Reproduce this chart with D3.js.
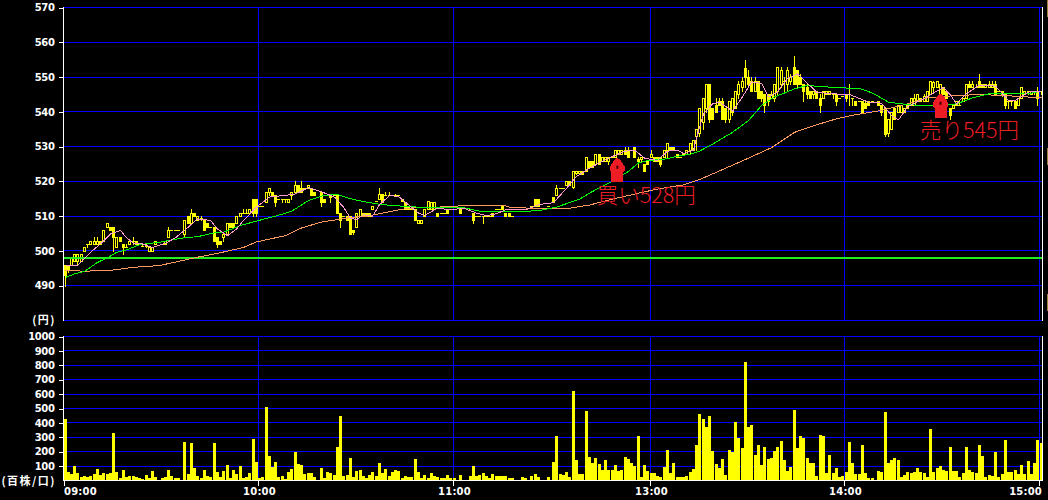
<!DOCTYPE html>
<html><head><meta charset="utf-8">
<script src="https://cdnjs.cloudflare.com/ajax/libs/d3/7.8.5/d3.min.js"></script>
<style>
html,body{margin:0;padding:0;background:#000;overflow:hidden}
svg{display:block}
text{font-family:"DejaVu Sans",sans-serif;font-weight:bold;font-size:10px;fill:#fff}
</style></head><body><div id="c"></div>
<script>
const priceTicks=[490,500,510,520,530,540,550,560,570];
const volumeTicks=[100,200,300,400,500,600,700,800,900,1000];
const timeTicks=[[0,"09:00"],[60,"10:00"],[120,"11:00"],[180,"13:00"],[240,"14:00"],[300,"15:00"]];
const referenceLevel=497.8;
// one row per minute: open, high, low, close (null = no trade)
const candles=[
[496,496,490,493],[496,496,494,494.5],[496,498,496,498],[497,499,497,499],[497,499,496,499],[497,499,497,499],[500,501,500,501],[502,502,501,502],[502,503,502,503],[502,504,502,503],
[502,504,502,503],[503,503,502,502],[503,506,503,506],[507,508,507,508],[507,507,506,506],[507,507,500,504],[501,504,501,504],[504,504,503,503],[502,502,499,501],[501,502,501,501],
[502,503,502,503],[503,504,502,503],[503,503,502,502],[502,502,502,502],[501.5,502,501.5,501.5],[501.5,502,501,501.5],[500,501,500,501],[500,501,500,501],[502,503,502,503],null,
[502,502,502,502],[502,503,502,503],[504,507,504,506],[506,506,506,506],[506,506,506,506],[506,506,506,506],null,[505,509,504,509],[510,510,508,508],[508,512,508,511],
[511,511,510,510],[509,510,509,510],[509.5,510,509,509.5],[509,509,506,506],[508,508,507,507],[507,507,507,507],[507,507,503,503],[504,504,501,502],[503,503,502,502],[504,505,503,505],
[505,508,505,508],[508,508,507,507],[508,508,507,507],[508,510,508,510],[510,511,510,511],[511,512,511,511],[511,512,511,511],[511,512,511,512],[515,515,510,511],[515,515,510,511],
[513,513,513,513],[513,513,513,513],[514,517,514,517],[517,518,516,518],[517,517,516,516],[516,516,513,514],[515,515,515,515],[515,515,514,515],[515,515,514,515],[514,515,514,515],
[516,517,515,517],[517,520,517,519],[519,519,517,517],[518,520,517,517],[518,518,518,518],[518,519,518,519],[518,518,516,516],[517,517,516,516],null,[517,517,513,514],
[515,515,514,514],[516,516,516,516],[516,516,514,515.5],[516,516,516,516],[516,516,511,511],[511,511,507,509],[510,510,510,510],[510,510,509,509],[510,510,505,505],
[506,506,505,505.5],[507,511,507,511],[510,512,510,512],[511,511,510,510],[511,511,510,510],[511,511,510,510],[512,513,512,513],[514.5,514.5,514.5,514.5],[515,518,515,516.5],[516.5,516.5,514,514],[516,517,516,516],
[516,517,516,516],[516,516,516,516],[516,516.5,516,516],[516,516,516,516],[515,515,514.5,514.5],[514,514,512,512],[513,513,512,512],[512,512,512,512],[512,512,509,509],[508,509,508,509],
[508,509,508,509],[510,512,510,512],[512,514.5,512,514.5],[512,514,512,514],[512,514,512,514],[511,511,510,510],[511,511,511,511],[511,511,511,511],[512,512,511,511],[512,512,512,512],
[512,512,512,512],null,[512,512,511,511],null,null,[512,512,512,512],[511,511,508,509],[510,510,510,510],[510,510,510,510],[510,510,508,510],
[510,510,510,510],[510,510,510,510],[511,511,510,510],[512,512,512,512],[512,512,512,512],[513,513,512,512],[511,511,510,510],[511,511,510,510],[510,510,510,510],null,
null,[512,512,512,512],[512,512,512,512],null,[513,513,513,513],[515,515,513,513],[515,515,513,513],null,null,[513,513,513,513],
[515.5,515.5,514,514],[516,519,516,518],[518,518,518,518],[518,518,518,518],[519,520,519,520],[520,520,519,519],[518.5,523,518,523],[522.5,523,522,523],[522.5,523,522,523],[523,523,522,522],
[523,527,523,527],[526,526,524,524],[526,526,524,524],[525,528,525,528],[528,528,525,525],[526,527,526,527],[526,527,526,527],[526,527,525,527],[527,527,527,527],[527,529,527,529],
[528,529,528,529],[528,529,528,529],[529,530,528,528],[529,530,527,527],[529,529,529,529],[530,530,527,527],[526.5,527,524,526],[526.5,527,526,527],[525,525,523,523],[526,526,525,525],
[527,529,527,528],[527,527,526,526],[527,527,526,526],[527,527,524.5,525],[527,529,527,529],[529,531,527,531],[530,530,529,529],[530,530,529,529],[528,528,527,527],[527,527,527,527],
[528,528,528,528],[528,529,528,529],[529,531,528,531],[529,532,529,532],[533,535,529,535],
[534,541,533,541],[537,544,535,544],[541,548,540,548],[548,548,537,538],[541,541,538,538],[542,544,540,540],[543,544,542,542],[543,544,538,538],[541,541,537,538],[538,543,537,543],
[540,544,539,544],[541,546,541,546],[545,549,544,548],[547,550,546,549],[552.5,555,547,550],[550,552,547,548],[549,550,546,546],[546,550,546,549],[549,549,544,544],[546,546,543,544],
[545,545,540,542],[545,545,542,543],[544,546,544,545],[544,548,543,548],[546,553,545,553],[548,553,547,552],[549,550,546,549],[548,553,546,552],[549,551,548,550],[553,556,548,548],
[552,552,547,548],[550,551,548,548],[548,548,543,546],[547,548,544,545],[546,546,544,544],[545,546,544,546],[546,546,544,544],[544,545,540,542],[544,546,544,546],[545,546,545,546],
[545,546,545,546],[545,545,544,545],[545,545,542,543],[544,544,544,544],[544.5,544.5,544.5,544.5],[545,545,543,544],[545,548,542,545],[544,544,542,544],[543,543,542,542],[543,543,543,543],
[543,543,540,540],[542.5,543,541,541],[543,543,542,542],[543,543,543,543],null,[543,543,542,542],[542,542,539,540],[541,541,533,533.5],[534,538,533,538],[535,540,535,540],
[541,541,538,538],[540,542,540,542],[540,542,540,542],[540,541,540,541],[541,542,541,542],[542,544,542,544],[542,545,542,544],[543,545,543,545],[543,544,543,544],[543,545,543,544.5],
[543,546,543,546],[545,549,545,549],[547,549,546,548.5],[547,549,547,549],[545,548,544,548],[547,547,545,545],[546,546,544,544],[541,541,538,539],[541,542,541,542],[542,543,542,543],
[542,543,542,542],[543,544,543,544],[544,548,544,548],[548,549,547,547],[547,549,547,548],[547,548,547,547],[549,551,547,547],[548,548,547,547],[547,548,547,548],[547,549,547,548],
[547,549,547,548],[548,549,545,545],[546,546,546,546],[546,546,544.5,545],[545,545,541,542],[543,543,541,543],[543,543,542,543],[543,543,541,541],[542,544,542,544],[544,547,544,547],
[545,546,545,546],[546,546,545,546],[545,546,545,546],[546,546,545,546],[546,547,542,544],[546,546,545,546]
];
const volumes=[425,60,45,100,50,25,30,25,30,45,80,40,50,45,50,330,60,15,75,25,30,30,25,15,10,40,15,65,25,0,
15,25,75,30,15,15,0,265,45,260,85,30,15,70,30,25,260,60,25,65,105,15,70,45,100,15,25,50,285,130,
15,25,510,170,95,130,25,30,10,60,80,195,115,105,45,50,50,25,0,85,15,60,50,35,230,445,30,40,155,25,
65,70,30,15,35,60,30,120,50,80,30,60,70,65,15,30,25,25,150,60,15,35,15,50,30,25,15,15,35,15,
15,0,35,0,0,30,100,30,35,50,30,15,45,30,30,30,30,15,15,0,0,25,15,0,30,45,25,0,0,25,
130,310,45,35,60,25,620,140,45,45,480,160,120,155,115,70,140,70,70,105,65,70,160,150,120,100,310,25,105,65,
50,50,30,25,95,210,50,125,25,25,25,30,60,80,245,465,430,375,445,205,115,85,150,35,210,195,405,295,225,820,
375,385,175,245,105,230,150,155,205,230,275,140,65,95,490,225,310,295,155,125,125,30,315,310,50,175,50,85,25,30,
60,265,125,45,45,245,50,15,15,0,65,60,475,120,140,155,140,25,35,60,50,60,85,60,50,25,355,60,85,100,
70,65,230,65,65,25,50,230,70,60,50,245,170,25,35,30,195,25,45,280,60,60,70,45,105,45,135,45,120,280,260];
// moving averages at selected minutes
const fastIdx=[0,4,8,12,14,17,19,21,24,27,31,34,37,41,45,47,50,53,55,59,63,68,71,75,79,83,86,88,90,92,95,97,100,103,106,109,111,115,119,123,127,130,133,136,142,146,150,154,157,161,167,172,175,178,182,185,188,190,193,194,196,199,201,205,208,211,214,216,219,222,225,228,231,235,241,247,251,254,256,259,263,267,270,272,274,277,281,286,290,292,296,300];
const fastVal=[495.8,495.8,499.6,502.8,504.9,505.9,503.8,502.2,502,501,502.2,503.8,505.9,509.2,508.8,506.3,504.4,506.3,508.8,512.6,515.5,516,516.4,518.2,517,515.5,512.6,509.4,509,510.4,510,513.3,515.9,515.7,513.3,510.9,510.2,512.3,511.8,512.3,510.9,510.1,510.7,511.8,511.8,513.3,513.9,518,521.4,523.8,526.7,528.7,529,526.7,526,528.7,529,528,529,532.6,539.4,542.3,542.8,540.2,544.3,548.6,548.2,544.3,545.7,549.6,550.9,548.2,545.7,545.2,545,542.8,542.5,538.9,537.7,541.4,543.3,545.4,547,544.8,542.3,545.2,547.7,547.4,543.3,543.3,545.7,546];
const midIdx=[0,3,6,10,13,16,19,23,29,32,37,41,46,49,54,59,65,70,75,80,84,88,92,98,105,109,115,120,124,126,129,133,140,146,151,154,158,162,169,173,176,179,184,189,192,195,199,205,210,214,218,221,224,228,233,241,244,248,253,257,263,269,274,279,284,290,296,300];
const midVal=[492.4,493.4,494.1,496.7,498,499.6,500.3,501.8,502.5,503,503.8,504.1,505.2,505.4,507.3,508.6,510,511.4,514.5,516,516.2,515,514.2,513.3,512.8,512.6,512.6,512.6,512.3,511.8,511.2,511.2,511.3,511.6,512.6,513.6,514.9,517.1,520.5,522.9,525.3,526,526.4,527.4,527.8,528.7,530.7,534.1,537.5,541.8,544.3,545.4,546.6,547.6,547.2,546.8,546.7,545.4,542.8,542.3,541.8,541.8,542.3,544,545.2,545.4,545.2,546];
const slowIdx=[0,5,13,21,29,35,41,47,55,59,68,73,79,86,88,94,100,106,115,123,136,137,143,149,155,161,168,176,182,190,195,209,217,224,230,237,242,251,259,265,271,281,292,300];
const slowVal=[494.5,494.2,494.3,495.3,495.8,497,498.2,499.3,501,502.6,504.4,506.6,508.3,509.3,509.6,510.1,511.3,512.3,512.6,513,513,512.6,512.3,512.3,512.3,513.2,514.9,516.6,517.8,519,520.5,526.3,529.7,534.1,536,538,539,540.4,542.3,544,544.5,545,544.5,544];
const tradeIdx=[170.2,269.7];
const tradePrice=[526.8,545.2];
const tradeLabels=["買い528円","売り545円"];

const svg=d3.select("#c").append("svg").attr("width",1048).attr("height",500);
svg.append("rect").attr("width",1048).attr("height",500).attr("fill","#000");
const x=d3.scaleLinear().domain([0,120,150,180,240,300]).range([64,453,550,650,844,1039]);
// the lunch break opens a small step between the sessions
const bx=i=>Math.floor(i<150?64+3.242*i:650+3.25*(i-180));
const yP=d3.scaleLinear().domain([480,570]).range([320.5,7.5]);
const yV=d3.scaleLinear().domain([0,1000]).range([480.5,336.5]);
const crisp=g=>g.attr("shape-rendering","crispEdges");
const BLUE="#0000ff",WHITE="#fff",YEL="#ffff00";
const L=63.5,R=1042.5;

// price grid and axis
const gp=svg.append("g").call(crisp);
gp.selectAll(".h").data([480,...priceTicks]).join("line").attr("x1",L).attr("x2",R)
 .attr("y1",d=>Math.floor(yP(d))+.5).attr("y2",d=>Math.floor(yP(d))+.5).attr("stroke",BLUE);
const gv=svg.append("g").call(crisp);
gv.selectAll(".h").data(volumeTicks).join("line").attr("x1",L).attr("x2",R)
 .attr("y1",d=>Math.floor(yV(d))+.5).attr("y2",d=>Math.floor(yV(d))+.5).attr("stroke",BLUE);
timeTicks.slice(1).forEach(([i])=>{
 const px=Math.floor(x(i))+.5;
 gp.append("line").attr("x1",px).attr("x2",px).attr("y1",yP.range()[1]).attr("y2",yP.range()[0]).attr("stroke",BLUE);
 gv.append("line").attr("x1",px).attr("x2",px).attr("y1",yV.range()[1]).attr("y2",yV.range()[0]).attr("stroke",BLUE);
});

// candles
const rows=candles.map((r,i)=>r&&{i,o:r[0],h:r[1],l:r[2],c:r[3]}).filter(Boolean);
const gc=svg.append("g").call(crisp);
rows.forEach(d=>{
 const px=bx(d.i),up=d.c>=d.o,top=Math.round(yP(Math.max(d.o,d.c))),bot=Math.round(yP(Math.min(d.o,d.c)));
 gc.append("line").attr("x1",px+1.5).attr("x2",px+1.5).attr("y1",Math.round(yP(d.h))).attr("y2",Math.round(yP(d.l))+1).attr("stroke",YEL);
 if(up&&bot-top>=2){
  gc.append("rect").attr("x",px+.5).attr("y",top+.5).attr("width",2).attr("height",bot-top).attr("fill","#000").attr("stroke",YEL);
 }else{
  gc.append("rect").attr("x",px).attr("y",top).attr("width",3).attr("height",Math.max(1,bot-top+1)).attr("fill",YEL);
 }
});

// reference level
svg.append("rect").attr("x",64).attr("width",978).attr("y",Math.floor(yP(referenceLevel))-1).attr("height",2).attr("fill","#22ee22").call(crisp);

// moving averages
const lineOf=(idx,val,col)=>svg.append("path").attr("fill","none").attr("stroke",col).attr("stroke-width",1).attr("shape-rendering","crispEdges")
 .attr("d",d3.line().x((d,k)=>bx(idx[k])+1.5).y(d=>yP(d))(val));
lineOf(slowIdx,slowVal,"#ff9a5c");
lineOf(midIdx,midVal,"#00ff00");
lineOf(fastIdx,fastVal,"#ff99cc");

// buy / sell marks
const RED="#ee1c25";
const arrowShape=[[0,0],[3,2],[7.5,9],[7.5,13],[6,14],[6,24],[-6,24],[-6,14],[-7.5,13],[-7.5,9],[-3,2]];
tradeIdx.forEach((t,k)=>{
 const g=svg.append("g").attr("transform",`translate(${x(t)},${yP(tradePrice[k])})`);
 g.append("path").attr("d",d3.line()(arrowShape)+"Z").attr("fill",RED).attr("shape-rendering","crispEdges");
 g.append("rect").attr("x",-1).attr("y",8).attr("width",2).attr("height",3).attr("fill","#400");
 g.append("text").attr("x",29).attr("y",k?44:45).attr("text-anchor","middle")
  .style("font-family",'"Noto Sans CJK JP"').style("font-weight",300).style("font-size","21.5px").style("fill",RED).text(tradeLabels[k]);
});

// volume bars
const gb=svg.append("g").call(crisp);
gb.selectAll("rect").data(volumes.map((v,i)=>({v,i})).filter(d=>d.v>0)).join("rect")
 .attr("x",d=>bx(d.i)).attr("width",3).attr("y",d=>Math.round(yV(d.v))).attr("height",d=>Math.round(yV(0))-Math.round(yV(d.v))).attr("fill",YEL);

// white frame and axes through D3
const axP=svg.append("g").attr("transform",`translate(${L},0)`).call(d3.axisLeft(yP).tickValues(priceTicks).tickSize(5).tickPadding(4).tickFormat(d3.format("d")));
const axV=svg.append("g").attr("transform",`translate(${L},0)`).call(d3.axisLeft(yV).tickValues([...volumeTicks]).tickSize(5).tickPadding(4).tickFormat(d3.format("d")));
[axP,axV].forEach(a=>{
 a.selectAll("path,line").attr("stroke",WHITE).attr("shape-rendering","crispEdges");
 a.select(".domain").remove();
 a.selectAll("text").style("fill",WHITE).style("font-size","10px").style("letter-spacing","-0.4px").style("font-family",'"DejaVu Sans"').style("font-weight","bold");
});
const fr=svg.append("g").call(crisp);
[[L,7,L,321],[L,336,L,481],[R,7,R,321],[R,336,R,481],[L,480.5,R,480.5]].forEach(s=>fr.append("line").attr("x1",s[0]).attr("y1",s[1]).attr("x2",s[2]).attr("y2",s[3]).attr("stroke",WHITE));
const axT=svg.append("g").attr("transform","translate(0,481)");
timeTicks.forEach(([i,t],k)=>{
 const px=Math.floor(x(i))+.5;
 axT.append("line").attr("x1",px).attr("x2",px).attr("y1",0).attr("y2",5).attr("stroke",WHITE).attr("shape-rendering","crispEdges");
 axT.append("text").attr("x",k==0?64:k==5?1042:px+1).attr("y",14).attr("text-anchor",k==0?"start":k==5?"end":"middle").style("letter-spacing","0.2px").text(t);
});
svg.append("text").attr("x",56).attr("y",324).attr("text-anchor","end").style("font-family",'"Noto Sans CJK JP"').style("font-size","11px").style("letter-spacing","1.5px").text("(円)");
svg.append("text").attr("x",56).attr("y",485).attr("text-anchor","end").style("font-family",'"Noto Sans CJK JP"').style("font-size","11px").style("letter-spacing","1.5px").text("(百株/口)");

// small tan marks on the far right edge
[[0,17],[148,17],[294,17]].forEach(([a,h])=>svg.append("rect").attr("x",1047).attr("y",a).attr("width",1).attr("height",h).attr("fill","#a08040"));
</script></body></html>
